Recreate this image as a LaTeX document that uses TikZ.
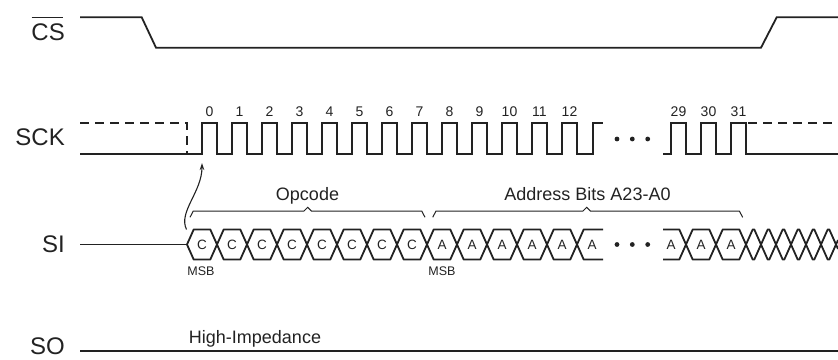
\documentclass[tikz,border=0pt]{standalone}
\usepackage{fontspec}
\setmainfont{Liberation Sans}
\usetikzlibrary{arrows.meta}
\definecolor{ink}{HTML}{222222}
\begin{document}
\begin{tikzpicture}[x=1pt,y=-1pt,
  wave/.style={line width=1.8pt, draw=ink, line join=miter},
  dwave/.style={wave, dash pattern=on 9pt off 6pt},
  cell/.style={line width=1.8pt, draw=ink, line join=round},
  brc/.style={line width=1pt, draw=ink},
  siglabel/.style={font=\fontsize{24}{28}\selectfont, inner sep=0pt, anchor=base east, text=ink},
  midtext/.style={font=\fontsize{18}{22}\selectfont, inner sep=0pt, anchor=base, text=ink},
  numtext/.style={font=\fontsize{14}{16}\selectfont, inner sep=0pt, anchor=base, text=ink},
  bittext/.style={font=\fontsize{13.5}{15}\selectfont, inner sep=0pt, anchor=center, text=ink},
  msbtext/.style={font=\fontsize{12.5}{14}\selectfont, inner sep=0pt, anchor=base, text=ink},
  dot/.style={fill=ink}
]
\useasboundingbox (0,0) rectangle (838,359);

% ---------- labels ----------
\node[siglabel] (cs) at (65,40.7) {CS};
\draw[line width=1.4pt, draw=ink] ([xshift=0.3pt]cs.west |- 0,17.3) -- ([xshift=-2.3pt]cs.east |- 0,17.3);
\node[siglabel] (sck) at (65,145.7) {SCK};
\node[siglabel] (si) at (65,252.3) {SI};
\node[siglabel] (so) at (65,354.6) {SO};

% ---------- CS ----------
\draw[wave] (80,17.3) -- (141.7,17.3) -- (156,47.7) -- (761,47.7) -- (776.7,17.3) -- (838,17.3);

% ---------- SCK ----------
\draw[dwave] (80,123) -- (187,123) -- (187,154);
\draw[wave] (80,154)
  foreach \k in {0,...,12} { -- ({202+30*\k},154) -- ({202+30*\k},123) -- ({217+30*\k},123) -- ({217+30*\k},154) }
  -- (593,154) -- (593,123) -- (603,123);
\draw[wave] (663,154) -- (671,154) -- (671,123) -- (686,123) -- (686,154) -- (701,154)
  -- (701,123) -- (716,123) -- (716,154) -- (731,154) -- (731,123) -- (746,123) -- (746,154) -- (838,154);
\draw[dwave] (748,123) -- (838,123);
\foreach \x in {617,632.3,647.7} \fill[dot] (\x,139) circle (2.4);

% clock numbers
\foreach \k in {0,...,12} \node[numtext] (n\k) at ({209.5+30*\k},116) {\k};
\node[numtext] (n29) at (678.5,116) {29};
\node[numtext] (n30) at (708.5,116) {30};
\node[numtext] (n31) at (738.5,116) {31};

% ---------- SI ----------
\def\T{229.5}\def\B{259.5}\def\M{244.5}\def\h{6.7}
\draw[wave] (80,\M) -- (187,\M);
\foreach \k in {0,...,12} {
  \draw[cell] ({187+30*\k},\M) -- ({187+30*\k+\h},\T) -- ({217+30*\k-\h},\T) -- ({217+30*\k},\M)
    -- ({217+30*\k-\h},\B) -- ({187+30*\k+\h},\B) -- cycle;
}
\draw[cell] (603,\T) -- ({577+\h},\T) -- (577,\M) -- ({577+\h},\B) -- (603,\B);
\foreach \x in {617,632.3,647.7} \fill[dot] (\x,\M) circle (2.4);
\draw[cell] (663,\T) -- ({686-\h},\T) -- (686,\M) -- ({686-\h},\B) -- (663,\B);
\foreach \s in {686,716} {
  \draw[cell] (\s,\M) -- ({\s+\h},\T) -- ({\s+30-\h},\T) -- ({\s+30},\M)
    -- ({\s+30-\h},\B) -- ({\s+\h},\B) -- cycle;
}
\foreach \j in {0,...,5} {
  \draw[cell] ({746+15*\j},\M) -- ({746+15*\j+\h},\T) -- ({761+15*\j-\h},\T) -- ({761+15*\j},\M)
    -- ({761+15*\j-\h},\B) -- ({746+15*\j+\h},\B) -- cycle;
}
\draw[cell] (838,{\M-4.4}) -- (836,\M) -- (838,{\M+4.4});

% bit letters
\foreach \k in {0,...,7} \node[bittext] (c\k) at ({202+30*\k},\M) {C};
\foreach \k in {8,...,13} \node[bittext] (a\k) at ({202+30*\k},\M) {A};
\node[bittext] (a29) at (671,\M) {A};
\node[bittext] (a30) at (701,\M) {A};
\node[bittext] (a31) at (731,\M) {A};

\node[msbtext] (msb1) at (201,275) {MSB};
\node[msbtext] (msb2) at (442,275) {MSB};

% braces
\draw[brc] (190,217.3) -- (193.3,211) -- (304,211) -- (307.7,207.3) -- (311.4,211) -- (421.7,211) -- (425,217.3);
\node[midtext] (opc) at (307.5,200) {Opcode};
\draw[brc] (432.7,217.3) -- (436,211) -- (583,211) -- (586.7,207.3) -- (590.4,211) -- (739.3,211) -- (742.7,217.3);
\node[midtext] (addr) at (587.5,200) {Address Bits A23-A0};

% arrow from SI to first SCK edge
\coordinate (astart) at (186.5,229.5);
\coordinate (aend) at (202,163);
\draw[brc, line width=1.1pt, -{Stealth[length=7pt,width=4.5pt]}] (astart) .. controls (178,212) and (202,192) .. (aend);

% ---------- SO ----------
\draw[wave] (80,351) -- (838,351);
\node[midtext] (hiz) at (255,343.3) {High-Impedance};
\end{tikzpicture}
\end{document}
